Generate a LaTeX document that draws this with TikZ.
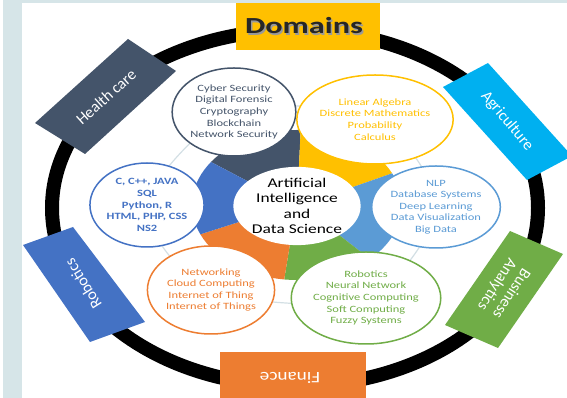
\documentclass[tikz,border=0pt]{standalone}
\usepackage{fontspec}
\setmainfont{Carlito}
\usetikzlibrary{shapes, backgrounds}

\definecolor{slate}{HTML}{44546A}
\definecolor{gold}{HTML}{FFC000}
\definecolor{sky}{HTML}{5B9BD5}
\definecolor{leaf}{HTML}{70AD47}
\definecolor{tang}{HTML}{ED7D31}
\definecolor{royal}{HTML}{4472C4}
\definecolor{agri}{HTML}{00B0F0}
\definecolor{frame}{HTML}{D6E5E8}
\definecolor{link}{HTML}{D3DFE4}

\begin{document}
\begin{tikzpicture}[x=1pt, y=1pt,
  bubble/.style={ellipse, fill=white, line width=1.5pt, inner sep=0pt, xscale=1.3, align=center, font=\fontsize{9.6}{11.6}\selectfont},
  boxtext/.style={text=white, align=center, font=\fontsize{16}{17}\selectfont},
  title/.style={font=\bfseries\fontsize{23}{26}\selectfont, xscale=1.4}]
\useasboundingbox (0,0) rectangle (567,398);
\clip (0,0) rectangle (567,398);
\fill[frame] (3,0) rectangle (22,398);
\fill[frame] (3,395) rectangle (567,398);

% outer ring and domains
\draw[line width=14pt] (295,190) ellipse [x radius=243, y radius=178];
\fill[slate] (35,275) -- (128,359) -- (176,327) -- (85,244) -- cycle;
\node[boxtext, rotate=42] (health) at (106,301) {Health care};
\fill[agri] (443,311) -- (488,335) -- (572,242) -- (527,218) -- cycle;
\node[boxtext, rotate=-50] (agri) at (507,277) {Agriculture};
\fill[royal] (23,153) -- (73,171) -- (145,76) -- (90,56) -- cycle;
\node[boxtext, rotate=122] (robo) at (83,114) {Robotics};
\fill[leaf] (445,73) -- (510,167) -- (563,144) -- (498,50) -- cycle;
\node[boxtext, rotate=-123] (busi) at (504,109) {Business\\Analytics};
\fill[gold] (236,348) rectangle (380,395);
\node[title, text=black!40] (domshadow) at (305.5,370.5) {Domains};
\node[title, text=black!85] (domains) at (304,372) {Domains};
\fill[tang] (220,0) rectangle (366,46);
\node[boxtext, rotate=180, xscale=1.2] (finance) at (290,20) {Finance};

% segments round the core
\begin{scope}[shift={(297,193)}]
\fill[slate] (88:105 and 75) arc[start angle=88, end angle=145, x radius=105, y radius=75] -- (145:45 and 30) arc[start angle=145, end angle=88, x radius=45, y radius=30] -- cycle;
\fill[gold] (25:105 and 75) arc[start angle=25, end angle=88, x radius=105, y radius=75] -- (88:45 and 30) arc[start angle=88, end angle=25, x radius=45, y radius=30] -- cycle;
\fill[sky] (-46:105 and 75) arc[start angle=-46, end angle=25, x radius=105, y radius=75] -- (25:45 and 30) arc[start angle=25, end angle=-46, x radius=45, y radius=30] -- cycle;
\fill[leaf] (-97:105 and 75) arc[start angle=-97, end angle=-46, x radius=105, y radius=75] -- (-46:45 and 30) arc[start angle=-46, end angle=-97, x radius=45, y radius=30] -- cycle;
\fill[tang] (203:105 and 75) arc[start angle=203, end angle=263, x radius=105, y radius=75] -- (263:45 and 30) arc[start angle=263, end angle=203, x radius=45, y radius=30] -- cycle;
\fill[royal] (145:105 and 75) arc[start angle=145, end angle=203, x radius=105, y radius=75] -- (203:45 and 30) arc[start angle=203, end angle=145, x radius=45, y radius=30] -- cycle;
\end{scope}
\node[ellipse, fill=white, inner sep=0pt, minimum width=80pt, minimum height=70pt, xscale=1.3, align=center, font=\fontsize{13.4}{15.3}\selectfont] (core) at (297,192) {Artificial\\Intelligence\\and\\Data Science};

% bubbles
\node[bubble, draw=slate, text=slate, minimum width=90pt, minimum height=88pt] (sec) at (234,286) {Cyber Security\\Digital Forensic\\Cryptography\\Blockchain\\Network Security};
\node[bubble, draw=gold, text=gold, minimum width=91pt, minimum height=89pt] (math) at (375,278.5) {Linear Algebra\\Discrete Mathematics\\Probability\\Calculus};
\node[bubble, draw=sky, text=sky, minimum width=88pt, minimum height=82pt] (ds) at (436,191) {NLP\\Database Systems\\Deep Learning\\Data Visualization\\Big Data};
\node[bubble, draw=leaf, text=leaf, minimum width=94pt, minimum height=92pt] (ml) at (366,100) {Robotics\\Neural Network\\Cognitive Computing\\Soft Computing\\Fuzzy Systems};
\node[bubble, draw=tang, text=tang, minimum width=94pt, minimum height=88pt] (net) at (211,108) {Networking\\Cloud Computing\\Internet of Thing\\Internet of Things};
\node[bubble, draw=royal, text=royal, font=\bfseries\fontsize{9.6}{11.6}\selectfont, minimum width=87pt, minimum height=84pt] (prog) at (147,193) {C, C++, JAVA\\SQL\\Python, R\\HTML, PHP, CSS\\NS2};

\begin{pgfonlayer}{background}
\draw[link, line width=1.2pt] plot[smooth cycle] coordinates {(sec) (math) (ds) (ml) (net) (prog)};
\end{pgfonlayer}
\end{tikzpicture}
\end{document}
